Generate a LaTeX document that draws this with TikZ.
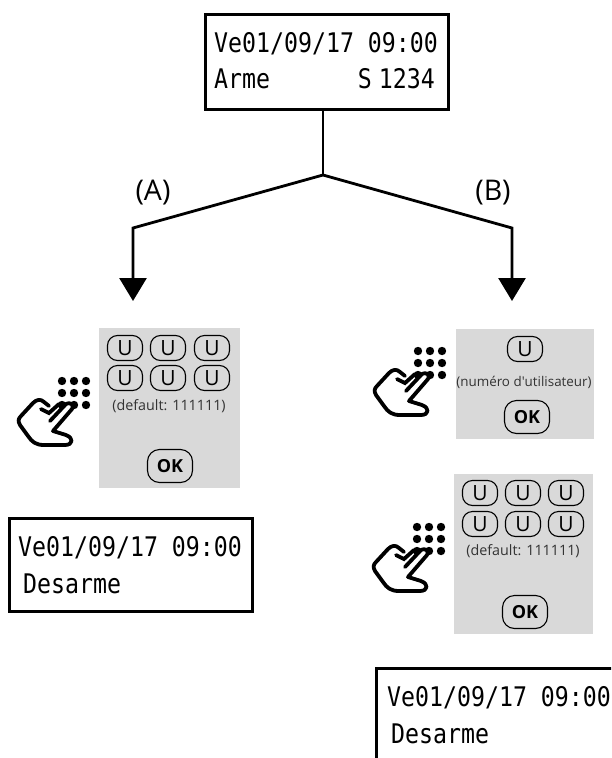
\documentclass[tikz,border=0pt]{standalone}
\usepackage{fontspec}
\setmainfont{Open Sans}
\newfontfamily\lcdfont[FakeStretch=0.86]{DejaVu Sans Mono}
\usetikzlibrary{arrows.meta}
\tikzset{
  every picture/.style={x=1pt, y=-1pt, >={Triangle[width=27pt,length=23pt]}},
  lcdbox/.style={draw, line width=3pt, anchor=north west, inner sep=0pt},
  lcdtext/.style={font={\lcdfont\fontsize{27}{27}\selectfont}, anchor=base west, inner sep=0pt},
  panel/.style={fill=black!15, anchor=north west, inner sep=0pt},
  keycap/.style={draw, rounded corners=10pt, line width=1.1pt, minimum width=35pt, minimum height=25pt,
    inner sep=0pt, font={\fontsize{21}{21}\selectfont}},
  okcap/.style={keycap, rounded corners=12pt, minimum width=45pt, minimum height=33pt,
    font={\bfseries\fontsize{18}{18}\selectfont}},
  hint/.style={inner sep=0pt, text=black!80, font={\fontsize{14.3}{14.3}\selectfont}},
  branch/.style={font={\fontsize{28.5}{28.5}\selectfont}, inner sep=0pt},
  wire/.style={line width=2.8pt},
  keypad/.pic={
    \foreach \px in {62,74,86}
      \foreach \py in {381,393,405}
        \fill (\px,\py) circle (4.2);
    \draw [line width=3.8pt, line cap=round, line join=round, fill=white]
      (50,421) -- (66,404) .. controls (70,401) and (75,406) .. (72,409)
      -- (53,431)
      -- (66,435) .. controls (74,438) and (73,445) .. (65,445)
      -- (44,445) .. controls (36,445) and (32,442) .. (28,436)
      -- (20,425) .. controls (18,421) and (18,419) .. (21,416)
      -- (33,403) .. controls (37,399) and (41,399) .. (44,402)
      -- (49,406);
    \draw [line width=3.8pt, line cap=round] (41,409) -- (49,413) -- (59,404);
  }
}
\begin{document}
\begin{tikzpicture}
  \useasboundingbox (0,0) rectangle (611,758);
  \clip (0,0) rectangle (611,758);
  % top display
  \node [lcdbox, minimum width=243pt, minimum height=95pt] (lcdtop) at (204,13) {};
  \node [lcdtext] (lcdtopa) at (214,52) {Ve01/09/17 09:00};
  \node [lcdtext] (lcdtopb) at (214,88) {Arme};
  \node [lcdtext, anchor=base east] (lcdtopc) at (435,88) {S\hspace{-7pt} 1234};

  % branches
  \coordinate (fork) at (323,175);
  \coordinate (elbowa) at (133,228);
  \coordinate (elbowb) at (512,228);
  \coordinate (tipa) at (133,301);
  \coordinate (tipb) at (512,301);
  \draw [wire] (lcdtop.south -| fork) -- (fork);
  \draw [wire, ->] (fork) -- (elbowa) -- (tipa);
  \draw [wire, ->] (fork) -- (elbowb) -- (tipb);
  \node [branch] (labela) at (153,193) {(A)};
  \node [branch] (labelb) at (493,193) {(B)};

  % path A
  \node [panel, minimum width=141pt, minimum height=160pt] (panela) at (99,328) {};
  \foreach \n/\kx/\ky in {a/125/348, b/168/348, c/212/348, d/125/378, e/168/378, f/212/378}
    \node [keycap] (keya\n) at (\kx,\ky) {U};
  \node [hint] (hinta) at (169,406) {(default: 111111)};
  \node [okcap] (oka) at (170,466) {OK};
  \pic at (0,0) {keypad};
  \node [lcdbox, minimum width=243pt, minimum height=93pt] (lcda) at (8,517) {};
  \node [lcdtext] (lcdaa) at (18,556) {Ve01/09/17 09:00};
  \node [lcdtext] (lcdab) at (23,593) {Desarme};

  % path B
  \node [panel, minimum width=138pt, minimum height=110pt] (panelb) at (456,329) {};
  \node [keycap] (keyb) at (525,349) {U};
  \node [hint, font={\fontsize{13.4}{13.4}\selectfont}] (hintb) at (524,382) {(numéro d\textquotesingle utilisateur)};
  \node [okcap] (okb) at (527,417) {OK};
  \pic at (356,-30) {keypad};
  \node [panel, minimum width=139pt, minimum height=160pt] (panelc) at (454,474) {};
  \foreach \n/\kx/\ky in {a/480/493, b/523/493, c/566/493, d/480/524, e/523/524, f/566/524}
    \node [keycap] (keyc\n) at (\kx,\ky) {U};
  \node [hint] (hintc) at (523,551) {(default: 111111)};
  \node [okcap] (okc) at (525,612) {OK};
  \pic at (355,146) {keypad};
  \node [lcdbox, minimum width=260pt, minimum height=120pt] (lcdb) at (375,667) {};
  \node [lcdtext] (lcdba) at (387,706) {Ve01/09/17 09:00};
  \node [lcdtext] (lcdbb) at (391,743) {Desarme};
\end{tikzpicture}
\end{document}
